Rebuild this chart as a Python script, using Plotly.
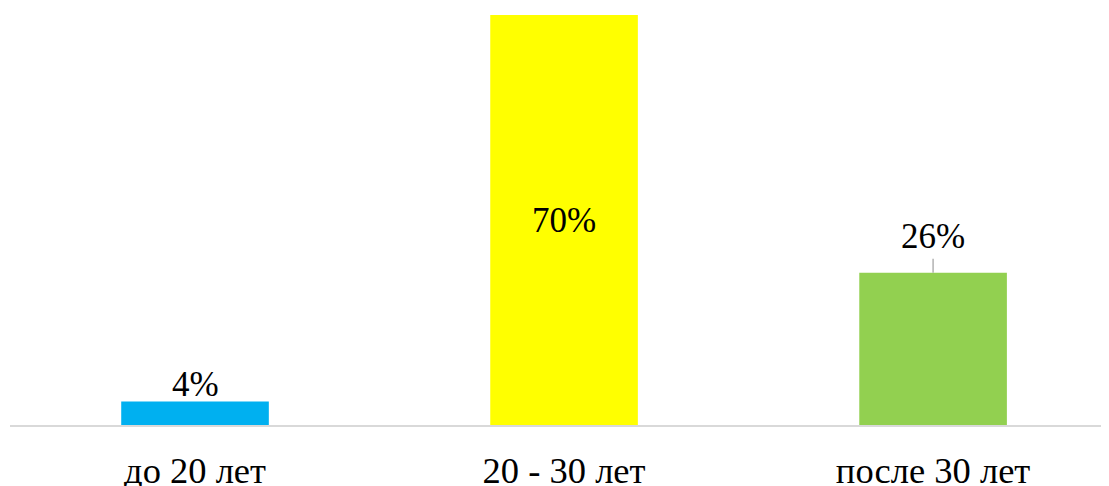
import plotly.graph_objects as go

categories = ["до 20 лет", "20 - 30 лет", "после 30 лет"]
values = [4, 70, 26]
labels = ["4%", "70%", "26%"]
colors = ["#00B0F0", "#FFFF00", "#92D050"]

x = list(range(len(categories)))

fig = go.Figure()
fig.add_trace(go.Bar(
    x=x, y=values, width=0.40,
    marker=dict(color=colors, line=dict(width=0)),
    hoverinfo="skip",
))

FONT = "Times New Roman, Liberation Serif, serif"
LBL = dict(family=FONT, size=35, color="#000000")
# data labels
fig.add_annotation(x=x[0], y=values[0], text=labels[0], showarrow=False,
                   yanchor="bottom", yshift=-4, font=LBL)
fig.add_annotation(x=x[1], y=values[1] / 2, text=labels[1], showarrow=False,
                   yanchor="middle", font=LBL)
fig.add_annotation(x=x[2], y=values[2], text=labels[2], showarrow=True,
                   ax=0, ay=-15, arrowhead=0, arrowwidth=1.3, arrowcolor="#A6A6A6",
                   standoff=0, startstandoff=1, yanchor="bottom",
                   font=LBL)

# the page body adds an 8px margin, so the figure is sized to fit the window
fig.update_layout(
    width=1101, height=478,
    margin=dict(l=2, r=1, t=0, b=60.5),
    paper_bgcolor="white", plot_bgcolor="white",
    showlegend=False,
    xaxis=dict(
        range=[-0.5014, 2.474],
        tickmode="array", tickvals=x, ticktext=categories,
        tickfont=dict(family=FONT, size=36.5, color="#000000"),
        showgrid=False, zeroline=False,
        showline=True, linecolor="#D9D9D9", linewidth=2,
        ticks="", ticklabelstandoff=12, automargin=False,
    ),
    yaxis=dict(range=[0, 71.2], visible=False, showgrid=False,
               zeroline=False, automargin=False),
)

fig.write_html("out.html")
